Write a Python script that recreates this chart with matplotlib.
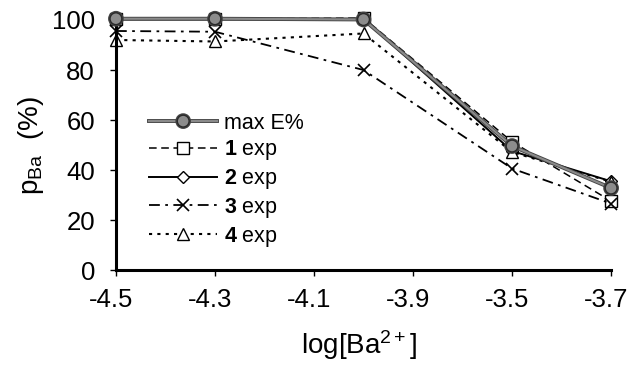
import numpy as np
import matplotlib
matplotlib.use("Agg")
import matplotlib.pyplot as plt
import matplotlib.patheffects as pe
from matplotlib.transforms import ScaledTranslation

plt.rcParams['font.family'] = ['Liberation Sans', 'DejaVu Sans']
plt.rcParams['mathtext.fontset'] = 'custom'
plt.rcParams['mathtext.rm'] = 'Liberation Sans'
plt.rcParams['mathtext.it'] = 'Liberation Sans:italic'
plt.rcParams['mathtext.bf'] = 'Liberation Sans:bold'

# data
logba = [-4.5, -4.3, -4.0, -3.7, -3.5]
tick_pos = [-4.5, -4.3, -4.1, -3.9, -3.7, -3.5]
tick_labels = ['-4.5', '-4.3', '-4.1', '-3.9', '-3.5', '-3.7']
max_e = [100.5, 100.5, 100.2, 49.6, 32.8]
exp1 = [100.3, 100.3, 100.8, 51.3, 27.6]
exp2 = [100.2, 100.2, 100.4, 47.6, 35.5]
exp3 = [95.6, 95.3, 80.0, 40.6, 26.6]
exp4 = [92.0, 91.4, 94.6, 47.2, 35.3]

fig = plt.figure(figsize=(6.3, 3.7), dpi=100)
ax = fig.add_axes([0.184, 0.270, 0.786, 0.676])

ax.plot(logba, max_e, '-', color='#8a8a8a', lw=1.5, marker='o', ms=8.5,
        mfc='#8c8c8c', mec='#2a2a2a', mew=1.0, label='max E%', clip_on=False, zorder=3,
        path_effects=[pe.Stroke(linewidth=2.8, foreground='#444444'), pe.Normal()])
ax.plot(logba, exp1, '--', color='black', lw=1.1, marker='s', ms=8,
        mfc='white', mec='black', mew=1.0, label='$\\mathbf{1}$ exp', clip_on=False, zorder=2,
        dashes=(5, 3))
ax.plot(logba, exp2, '-', color='black', lw=1.4, marker='D', ms=6.5,
        mfc='white', mec='black', mew=1.0, label='$\\mathbf{2}$ exp', clip_on=False, zorder=2)
ax.plot(logba, exp3, color='black', lw=1.3, marker='x', ms=8, mew=1.2,
        label='$\\mathbf{3}$ exp', clip_on=False, zorder=2, dashes=(6, 3, 1.5, 3))
ax.plot(logba, exp4, color='black', lw=1.5, marker='^', ms=8,
        mfc='white', mec='black', mew=1.0, label='$\\mathbf{4}$ exp', clip_on=False, zorder=2,
        dashes=(1.5, 2.5))

ax.set_xlim(-4.5, -3.5)
ax.set_ylim(0, 100)
ax.set_xticks(tick_pos)
ax.set_xticklabels(tick_labels)
ax.set_yticks(np.arange(0, 101, 20))

for s in ['top', 'right']:
    ax.spines[s].set_visible(False)
for s in ['left', 'bottom']:
    ax.spines[s].set_linewidth(2.2)
ax.tick_params(axis='both', direction='out', length=4, width=1.0, labelsize=18.5)
ax.tick_params(axis='y', pad=11)
ax.tick_params(axis='x', pad=9)

# labels sit a little left of their ticks, as in the reference
shift = ScaledTranslation(-5 / 100, 0, fig.dpi_scale_trans)
for lab in ax.get_xticklabels():
    lab.set_transform(lab.get_transform() + shift)

ax.set_ylabel('p$_{\\mathrm{Ba}}$  (%)', fontsize=20, labelpad=4)
ax.set_xlabel('log[Ba$^{2+}$]', fontsize=20)
ax.xaxis.set_label_coords(0.49, -0.232)

ax.legend(loc='upper left', bbox_to_anchor=(0.05, 0.664), frameon=False, fontsize=15.5,
          handlelength=3.15, handletextpad=0.33, labelspacing=0.22, borderaxespad=0)

fig.savefig('out.png', dpi=100)
